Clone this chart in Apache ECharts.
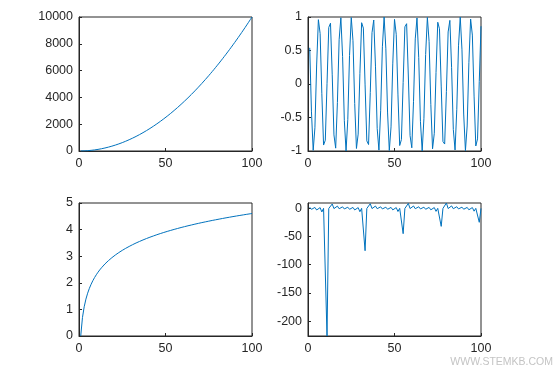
<!DOCTYPE html>
<html>
<head>
<meta charset="utf-8">
<script src="https://cdn.jsdelivr.net/npm/echarts@6/dist/echarts.min.js"></script>
<style>
html,body{margin:0;padding:0;background:#fff;}
#c{width:557px;height:374px;}
</style>
</head>
<body>
<div id="c"></div>
<script>
var xs = [1,2,3,4,5,6,7,8,9,10,11,12,13,14,15,16,17,18,19,20,21,22,23,24,25,26,27,28,29,30,31,32,33,34,35,36,37,38,39,40,41,42,43,44,45,46,47,48,49,50,51,52,53,54,55,56,57,58,59,60,61,62,63,64,65,66,67,68,69,70,71,72,73,74,75,76,77,78,79,80,81,82,83,84,85,86,87,88,89,90,91,92,93,94,95,96,97,98,99,100];

var squareVals = [1,4,9,16,25,36,49,64,81,100,121,144,169,196,225,256,289,324,361,400,441,484,529,576,625,676,729,784,841,900,961,1024,1089,1156,1225,1296,1369,1444,1521,1600,1681,1764,1849,1936,2025,2116,2209,2304,2401,2500,2601,2704,2809,2916,3025,3136,3249,3364,3481,3600,3721,3844,3969,4096,4225,4356,4489,4624,4761,4900,5041,5184,5329,5476,5625,5776,5929,6084,6241,6400,6561,6724,6889,7056,7225,7396,7569,7744,7921,8100,8281,8464,8649,8836,9025,9216,9409,9604,9801,10000];

var cosVals = [0.5403,-0.4161,-0.9900,-0.6536,0.2837,0.9602,0.7539,-0.1455,-0.9111,-0.8391,
0.0044,0.8439,0.9074,0.1367,-0.7597,-0.9577,-0.2752,0.6603,0.9887,0.4081,
-0.5477,-1.0000,-0.5328,0.4242,0.9912,0.6469,-0.2921,-0.9626,-0.7481,0.1543,
0.9147,0.8342,-0.0133,-0.8486,-0.9037,-0.1280,0.7654,0.9551,0.2666,-0.6669,
-0.9873,-0.4000,0.5551,0.9998,0.5253,-0.4322,-0.9923,-0.6401,0.3006,0.9650,
0.7422,-0.1630,-0.9183,-0.8293,0.0221,0.8532,0.8999,0.1192,-0.7711,-0.9524,
-0.2581,0.6735,0.9859,0.3919,-0.5625,-0.9996,-0.5178,0.4401,0.9934,0.6333,
-0.3090,-0.9673,-0.7362,0.1717,0.9218,0.8243,-0.0310,-0.8578,-0.8960,-0.1104,
0.7767,0.9497,0.2495,-0.6800,-0.9844,-0.3837,0.5698,0.9994,0.5102,-0.4481,
-0.9944,-0.6264,0.3174,0.9695,0.7302,-0.1804,-0.9251,-0.8193,0.0398,0.8623];

var logVals = [0,0.693,1.099,1.386,1.609,1.792,1.946,2.079,2.197,2.303,
2.398,2.485,2.565,2.639,2.708,2.773,2.833,2.890,2.944,2.996,
3.045,3.091,3.135,3.178,3.219,3.258,3.296,3.332,3.367,3.401,
3.434,3.466,3.497,3.526,3.555,3.584,3.611,3.638,3.664,3.689,
3.714,3.738,3.761,3.784,3.807,3.829,3.850,3.871,3.892,3.912,
3.932,3.951,3.970,3.989,4.007,4.025,4.043,4.060,4.078,4.094,
4.111,4.127,4.143,4.159,4.174,4.190,4.205,4.220,4.234,4.248,
4.263,4.277,4.290,4.304,4.317,4.331,4.344,4.357,4.369,4.382,
4.394,4.407,4.419,4.431,4.443,4.454,4.466,4.477,4.489,4.500,
4.511,4.522,4.533,4.543,4.554,4.564,4.575,4.585,4.595,4.605];

var tanVals = [1.557,-2.185,-0.143,1.158,-3.381,-0.291,0.871,-6.800,-0.452,0.648,
-225.951,-0.636,0.463,7.245,-0.856,0.301,3.494,-1.137,0.152,2.237,
-1.527,0.009,1.588,-2.135,-0.134,1.179,-3.274,-0.281,0.887,-6.405,
-0.442,0.661,-75.313,-0.623,0.474,7.750,-0.841,0.310,3.615,-1.117,
0.161,2.291,-1.498,0.018,1.620,-2.087,-0.125,1.200,-3.173,-0.272,
0.903,-6.053,-0.431,0.674,-45.183,-0.611,0.485,8.331,-0.826,0.320,
3.743,-1.098,0.170,2.348,-1.470,0.027,1.652,-2.040,-0.116,1.222,
-3.078,-0.262,0.919,-5.737,-0.421,0.687,-32.269,-0.599,0.496,9.004,
-0.811,0.330,3.881,-1.078,0.179,2.407,-1.442,0.035,1.686,-1.995,
-0.107,1.244,-2.987,-0.253,0.936,-5.451,-0.410,0.700,-25.093,-0.587];

var xTicks = [0, 50, 100];
var squareTicks = [0, 2000, 4000, 6000, 8000, 10000];
var cosTicks = [-1, -0.5, 0, 0.5, 1];
var logTicks = [0, 1, 2, 3, 4, 5];
var tanTicks = [-200, -150, -100, -50, 0];

var TXT = '#262626';
var LINE = '#0072BD';
var FONT = 'Liberation Sans, Arial, sans-serif';

function pairs(xv, yv){ return xv.map(function(x,i){ return [x, yv[i]]; }); }
function plain(v){ return String(v); }

function xAxis(gi){
  return {
    type:'value', gridIndex:gi, min:0, max:100,
    axisLine:{show:true, onZero:false, lineStyle:{color:TXT, width:1}},
    axisTick:{show:true, inside:true, length:3, lineStyle:{color:TXT}, customValues:xTicks},
    axisLabel:{color:TXT, fontSize:12.5, fontFamily:FONT, margin:6, customValues:xTicks, formatter:plain},
    splitLine:{show:false}
  };
}
function yAxis(gi, min, max, ticks){
  return {
    type:'value', gridIndex:gi, min:min, max:max,
    axisLine:{show:true, onZero:false, lineStyle:{color:TXT, width:1}},
    axisTick:{show:true, inside:true, length:3, lineStyle:{color:TXT}, customValues:ticks},
    axisLabel:{color:TXT, fontSize:12.5, fontFamily:FONT, margin:6, customValues:ticks, formatter:plain},
    splitLine:{show:false}
  };
}
function ser(gi, yv){
  return {
    type:'line', xAxisIndex:gi, yAxisIndex:gi, data:pairs(xs, yv),
    showSymbol:false, symbol:'none', animation:false,
    lineStyle:{color:LINE, width:1}, silent:true
  };
}

var gridBase = {show:true, borderColor:TXT, borderWidth:1, backgroundColor:'#fff'};
var chart = echarts.init(document.getElementById('c'), null, {renderer:'canvas'});
chart.setOption({
  animation:false,
  backgroundColor:'#fff',
  grid:[
    Object.assign({left:79, top:17, width:173, height:134}, gridBase),
    Object.assign({left:308, top:17, width:173, height:134}, gridBase),
    Object.assign({left:79, top:203, width:173, height:133}, gridBase),
    Object.assign({left:308, top:203, width:173, height:133}, gridBase)
  ],
  xAxis:[xAxis(0), xAxis(1), xAxis(2), xAxis(3)],
  yAxis:[
    yAxis(0, 0, 10000, squareTicks),
    yAxis(1, -1, 1, cosTicks),
    yAxis(2, 0, 5, logTicks),
    yAxis(3, -225.951, 9.004, tanTicks)
  ],
  series:[ser(0, squareVals), ser(1, cosVals), ser(2, logVals), ser(3, tanVals)],
  graphic:[{
    type:'text', right:4, top:357,
    style:{text:'WWW.STEMKB.COM', fill:'#c4c4c4', font:'10.5px Liberation Sans, Arial, sans-serif'}
  }]
});
</script>
</body>
</html>
